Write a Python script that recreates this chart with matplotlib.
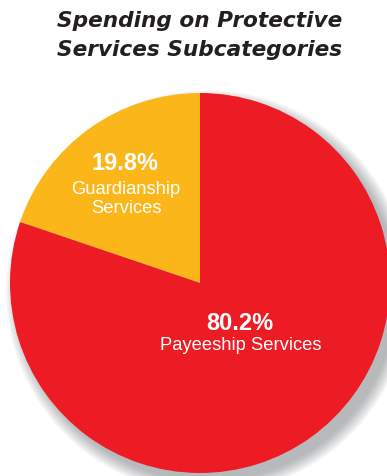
import matplotlib
matplotlib.use("Agg")
import matplotlib.pyplot as plt
from matplotlib.patches import Circle

categories = ["Guardianship\nServices", "Payeeship Services"]
values = [19.8, 80.2]
pct_labels = ["19.8%", "80.2%"]
colors = ["#FBB619", "#ED1C24"]

W, H = 387, 476
fig = plt.figure(figsize=(W/100, H/100), dpi=100)
ax = fig.add_axes([0, 0, 1, 1])
ax.set_xlim(0, W)
ax.set_ylim(0, H)
ax.set_aspect("equal")
ax.axis("off")

cx, cy, r = 200, H - 283, 190

# soft shadow
for i in range(14):
    ax.add_patch(Circle((cx + 8, cy - 9), r + 12 - i, facecolor="#555a60",
                        edgecolor="none", alpha=0.035, zorder=0))

ax.pie(values, colors=colors, startangle=90, counterclock=True,
       center=(cx, cy), radius=r, frame=True,
       wedgeprops=dict(linewidth=0, zorder=2))
ax.set_xlim(0, W)
ax.set_ylim(0, H)
ax.axis("off")

title_kw = dict(ha="center", va="center", fontsize=15.6, fontweight="bold",
                style="italic", color="#231F20", family="DejaVu Sans")
ax.text(200, H - 21, "Spending on Protective", **title_kw)
ax.text(200, H - 50, "Services Subcategories", **title_kw)

# labels
ax.text(125, H - 164, pct_labels[0], ha="center", va="center", fontsize=17,
        fontweight="bold", color="white", family="Liberation Sans")
ax.text(126, H - 199, categories[0], ha="center", va="center", fontsize=13.2,
        color="white", family="Liberation Sans", linespacing=1.15)
ax.text(240, H - 323, pct_labels[1], ha="center", va="center", fontsize=17,
        fontweight="bold", color="white", family="Liberation Sans")
ax.text(241, H - 345, categories[1], ha="center", va="center", fontsize=13.2,
        color="white", family="Liberation Sans")

fig.savefig("out.png", dpi=100)
